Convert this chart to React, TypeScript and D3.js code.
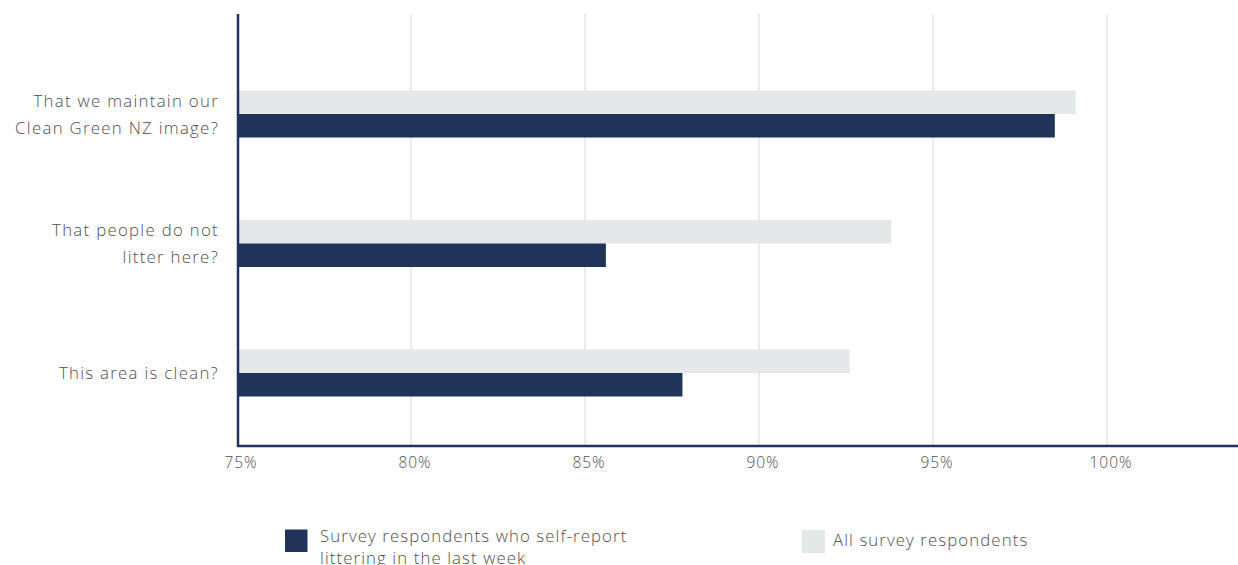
import React from "react";
import * as d3 from "d3";

const categories = ["That we maintain our|Clean Green NZ image?", "That people do not|litter here?", "This area is clean?"];
const selfReport = [98.5, 85.6, 87.8];
const allRespondents = [99.1, 93.8, 92.6];
const ticks = [75, 80, 85, 90, 95, 100];
const seriesNames = ["Survey respondents who self-report|littering in the last week", "All survey respondents"];

const DARK = "#22335a";
const LIGHT = "#e4e8e8";
const TEXT = "#505050";
const FONT = "'Open Sans', 'DejaVu Sans', sans-serif";

export default function App() {
  const W = 1238, H = 565;
  const x = d3.scaleLinear().domain([75, 100]).range([237, 1107]);
  const y = d3.scalePoint<string>().domain(categories).range([114, 373]);
  const barH = 23.5;
  const top = 14, bottom = 446;

  return (
    <svg width={W} height={H} style={{ position: "absolute", left: 0, top: 0, background: "#fff" }} fontFamily={FONT}>
      {ticks.filter(t => t > 75).map(t => (
        <line key={t} x1={x(t)} x2={x(t)} y1={top} y2={bottom} stroke="#ebebeb" strokeWidth={2} />
      ))}
      {categories.map((c, i) => {
        const cy = y(c)!;
        return (
          <g key={c}>
            <rect x={x(75)} y={cy - barH} width={x(allRespondents[i]) - x(75)} height={barH} fill={LIGHT} />
            <rect x={x(75)} y={cy} width={x(selfReport[i]) - x(75)} height={barH} fill={DARK} />
          </g>
        );
      })}
      {categories.map((c) => {
        const lines = c.split("|");
        const cy = y(c)!;
        const lh = 27;
        const first = cy + 6 - ((lines.length - 1) * lh) / 2;
        return (
          <text key={c} textAnchor="end" fill={TEXT} fontSize={16.8} fontWeight={300} letterSpacing={1.3}>
            {lines.map((l, j) => (
              <tspan key={j} x={219} y={first + j * lh}>{l}</tspan>
            ))}
          </text>
        );
      })}
      <line x1={x(75) + 1} x2={x(75) + 1} y1={top} y2={bottom + 1} stroke={DARK} strokeWidth={2.5} />
      <line x1={x(75)} x2={W} y1={bottom} y2={bottom} stroke={DARK} strokeWidth={2.5} />
      {ticks.map(t => (
        <text key={t} x={x(t) + 4} y={468} textAnchor="middle" fill={TEXT} fontSize={15.5} fontWeight={300} letterSpacing={1}>
          {t}%
        </text>
      ))}
      <g>
        <rect x={285} y={529.5} width={22.5} height={22.5} fill={DARK} />
        <text fill={TEXT} fontSize={16.8} fontWeight={300} letterSpacing={1.1}>
          {seriesNames[0].split("|").map((l, j) => (
            <tspan key={j} x={320} y={542 + j * 22}>{l}</tspan>
          ))}
        </text>
        <rect x={802} y={530} width={23} height={23} fill={LIGHT} />
        <text x={833} y={546} fill={TEXT} fontSize={16.8} fontWeight={300} letterSpacing={1.1}>
          {seriesNames[1]}
        </text>
      </g>
    </svg>
  );
}
